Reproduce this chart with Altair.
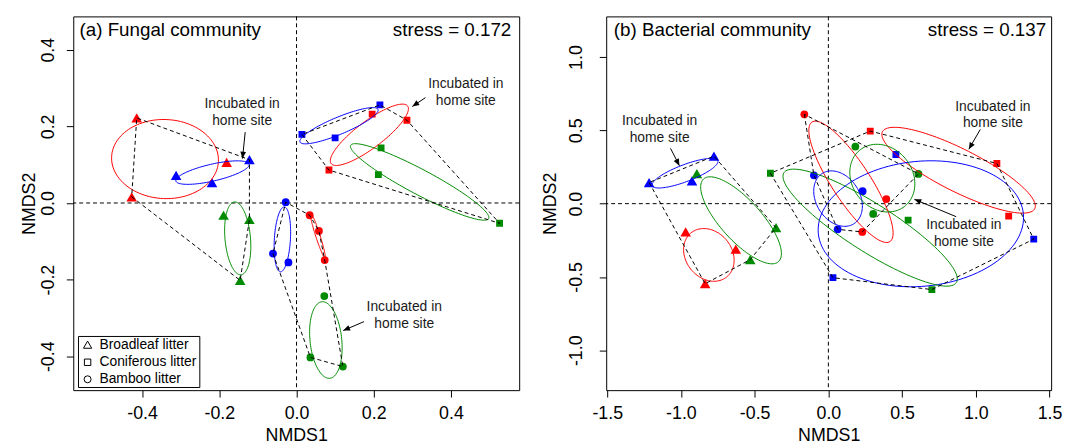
import numpy as np
import pandas as pd
import altair as alt

FONT = "Liberation Sans"

# ---------------- data ----------------
SITES = ["Coniferous site", "Broadleaf site", "Bamboo site"]
SITE_COLORS = ["#FF0000", "#0000FF", "#008B00"]
LITTERS = ["Broadleaf litter", "Coniferous litter", "Bamboo litter"]
LITTER_SHAPES = ["triangle-up", "square", "circle"]
LITTER_SIZES = [115, 48, 62]

sample_litter = ["Broadleaf litter"] * 9 + ["Coniferous litter"] * 9 + ["Bamboo litter"] * 9
sample_site = (["Coniferous site"] * 3 + ["Broadleaf site"] * 3 + ["Bamboo site"] * 3) * 3

# (a) Fungal community
fungal_x = [-0.414, -0.427, -0.181, -0.312, -0.219, -0.122, -0.189, -0.122, -0.146,
            0.196, 0.286, 0.084, 0.014, 0.100, 0.216, 0.219, 0.212, 0.526,
            0.034, 0.058, 0.073, -0.028, -0.061, -0.021, 0.072, 0.036, 0.120]
fungal_y = [0.222, 0.016, 0.106, 0.072, 0.053, 0.113, -0.032, -0.043, -0.202,
            0.232, 0.216, 0.086, 0.179, 0.170, 0.256, 0.144, 0.074, -0.053,
            -0.032, -0.073, -0.149, 0.002, -0.132, -0.155, -0.243, -0.403, -0.427]

# (b) Bacterial community
bact_x = [-0.968, -0.628, -0.836, -1.216, -0.925, -0.776, -0.892, -0.355, -0.530,
          0.284, 1.143, 1.223, 0.458, 1.393, 0.031, -0.393, 0.541, 0.702,
          -0.163, 0.393, 0.230, -0.098, 0.232, 0.063, 0.183, 0.304, 0.611]
bact_y = [-0.193, -0.310, -0.546, 0.144, 0.155, 0.324, 0.205, -0.164, -0.382,
          0.495, 0.274, -0.085, 0.335, -0.242, -0.505, 0.207, -0.112, -0.586,
          0.609, 0.031, -0.193, 0.193, 0.085, -0.175, 0.389, -0.070, 0.203]

note_lines = ["Incubated in", "home site"]
fungal_note_x = [-0.141, 0.4385, 0.279]
fungal_note_y1 = [0.258, 0.311, -0.2725]
fungal_note_y2 = [0.213, 0.267, -0.316]
fungal_arrow_x0 = [-0.133, 0.334, 0.1747]
fungal_arrow_y0 = [0.185, 0.275, -0.3097]
fungal_arrow_x1 = [-0.140, 0.300, 0.1209]
fungal_arrow_y1 = [0.116, 0.252, -0.3329]

bact_note_x = [-1.1445, 1.1157, 0.919]
bact_note_y1 = [0.562, 0.662, -0.146]
bact_note_y2 = [0.447, 0.547, -0.261]
bact_arrow_x0 = [-1.0708, 1.0305, 0.8675]
bact_arrow_y0 = [0.3773, 0.5061, -0.0891]
bact_arrow_x1 = [-1.0104, 0.9527, 0.5838]
bact_arrow_y1 = [0.2586, 0.3712, 0.0293]

fungal_xdom = [-0.5784, 0.5768]
fungal_ydom = [-0.4885, 0.487]
bact_xdom = [-1.507, 1.511]
bact_ydom = [-1.272, 1.277]
fungal_ticks = [-0.4, -0.2, 0.0, 0.2, 0.4]
bact_xticks = [-1.5, -1.0, -0.5, 0.0, 0.5, 1.0, 1.5]
bact_yticks = [-1.0, -0.5, 0.0, 0.5, 1.0]

H = 378
LABEL_EXPR = "(datum.value < 0 ? '-' : '') + format(abs(datum.value), '.1f')"

color_of = dict(zip(SITES, SITE_COLORS))
shape_of = dict(zip(LITTERS, LITTER_SHAPES))
size_of = dict(zip(LITTERS, LITTER_SIZES))


def convex_hull(points):
    pts = sorted(set(points))
    if len(pts) <= 2:
        return pts

    def cross(o, a, b):
        return (a[0] - o[0]) * (b[1] - o[1]) - (a[1] - o[1]) * (b[0] - o[0])

    lower, upper = [], []
    for p in pts:
        while len(lower) >= 2 and cross(lower[-2], lower[-1], p) <= 0:
            lower.pop()
        lower.append(p)
    for p in reversed(pts):
        while len(upper) >= 2 and cross(upper[-2], upper[-1], p) <= 0:
            upper.pop()
        upper.append(p)
    return lower[:-1] + upper[:-1]


def panel(xs, ys, xdom, ydom, width, xticks, yticks, lab_pad, title_x,
          note_x, note_y1, note_y2, ax0, ay0, ax1, ay1, title_left, title_right,
          title_left_x, title_right_x, legend):
    df = pd.DataFrame({"x": xs, "y": ys, "litter": sample_litter, "site": sample_site})
    df["color"] = df["site"].map(color_of)
    df["shape"] = df["litter"].map(shape_of)
    df["size"] = df["litter"].map(size_of)

    # sd ellipses (mean + sqrt of covariance)
    t = np.linspace(0, 2 * np.pi, 121)
    circ = np.vstack([np.cos(t), np.sin(t)])
    rows = []
    for (lit, site), g in df.groupby(["litter", "site"], sort=False):
        pts = g[["x", "y"]].to_numpy()
        m = pts.mean(axis=0)
        w, v = np.linalg.eigh(np.cov(pts.T))
        w = np.clip(w, 0, None)
        e = (v @ np.diag(np.sqrt(w)) @ circ).T + m
        for k, (ex, ey) in enumerate(e):
            rows.append({"x": ex, "y": ey, "k": k, "gid": lit + "|" + site,
                         "color": color_of[site]})
    ell = pd.DataFrame(rows)

    # convex hulls per litter type
    hrows = []
    for lit, g in df.groupby("litter", sort=False):
        hull = convex_hull(list(zip(g["x"], g["y"])))
        hull = hull + [hull[0]]
        for k, (hx, hy) in enumerate(hull):
            hrows.append({"x": hx, "y": hy, "k": k, "gid": lit})
    hul = pd.DataFrame(hrows)

    sx = width / (xdom[1] - xdom[0])
    sy = H / (ydom[1] - ydom[0])
    arr = pd.DataFrame({"x0": ax0, "y0": ay0, "x1": ax1, "y1": ay1})
    arr["ang"] = [float(np.degrees(np.arctan2((b - a) * sx, (d - c) * sy)) % 360)
                  for a, b, c, d in zip(ax0, ax1, ay0, ay1)]
    notes = pd.DataFrame({
        "x": list(note_x) + list(note_x),
        "y": list(note_y1) + list(note_y2),
        "t": [note_lines[0]] * len(note_x) + [note_lines[1]] * len(note_x),
    })

    xaxis = alt.Axis(values=xticks, title="NMDS1", grid=False, domain=False,
                     tickSize=7, tickColor="black", labelFontSize=18, labelFont=FONT,
                     labelColor="black", labelPadding=8, labelFlush=False,
                     labelExpr=LABEL_EXPR, titleFontSize=18, titleFont=FONT,
                     titleFontWeight="normal", titleColor="black",
                     titleBaseline="alphabetic", titleY=51)
    yaxis = alt.Axis(values=yticks, title="NMDS2", grid=False, domain=False,
                     tickSize=7, tickColor="black", labelFontSize=18, labelFont=FONT,
                     labelColor="black", labelPadding=lab_pad, labelFlush=False,
                     labelAngle=270, labelAlign="center", labelBaseline="alphabetic",
                     labelExpr=LABEL_EXPR, titleFontSize=18, titleFont=FONT,
                     titleFontWeight="normal", titleColor="black", titleAngle=270,
                     titleAlign="center", titleBaseline="alphabetic",
                     titleX=title_x, titleY=H / 2)
    xs_ = alt.Scale(domain=xdom, nice=False, zero=False)
    ys_ = alt.Scale(domain=ydom, nice=False, zero=False)
    X = alt.X("x:Q", scale=xs_, axis=xaxis)
    Y = alt.Y("y:Q", scale=ys_, axis=yaxis)

    zero = pd.DataFrame({"x": [0.0], "y": [0.0]})
    vline = alt.Chart(zero).mark_rule(color="black", strokeWidth=1, strokeDash=[4, 3]).encode(x=X)
    hline = alt.Chart(zero).mark_rule(color="black", strokeWidth=1, strokeDash=[4, 3]).encode(y=Y)

    points = alt.Chart(df).mark_point(filled=True, opacity=1, clip=True).encode(
        x=X, y=Y,
        color=alt.Color("color:N", scale=None),
        shape=alt.Shape("shape:N", scale=None),
        size=alt.Size("size:Q", scale=None),
    )
    ellipses = alt.Chart(ell).mark_line(strokeWidth=1, clip=True).encode(
        x=X, y=Y, detail="gid:N", order="k:Q", color=alt.Color("color:N", scale=None))
    hulls = alt.Chart(hul).mark_line(strokeWidth=1, color="black", strokeDash=[4, 3],
                                     clip=True).encode(x=X, y=Y, detail="gid:N", order="k:Q")
    shafts = alt.Chart(arr).mark_rule(color="black", strokeWidth=1).encode(
        x=alt.X("x0:Q", scale=xs_, axis=xaxis), y=alt.Y("y0:Q", scale=ys_, axis=yaxis),
        x2="x1:Q", y2="y1:Q")
    heads = alt.Chart(arr).mark_point(shape="M0,0L-0.42,1L0.42,1Z", filled=True,
                                      color="black", opacity=1, size=190).encode(
        x=alt.X("x1:Q", scale=xs_, axis=xaxis), y=alt.Y("y1:Q", scale=ys_, axis=yaxis),
        angle=alt.Angle("ang:Q", scale=None))
    note_text = alt.Chart(notes).mark_text(font=FONT, fontSize=14, color="#1a1a1a",
                                           align="center", baseline="middle").encode(
        x=X, y=Y, text="t:N")

    tl = alt.Chart(pd.DataFrame({"t": [title_left]})).mark_text(
        font=FONT, fontSize=19, color="black", align="left", baseline="middle").encode(
        x=alt.value(title_left_x), y=alt.value(13.5), text="t:N")
    tr = alt.Chart(pd.DataFrame({"t": [title_right]})).mark_text(
        font=FONT, fontSize=19, color="black", align="right", baseline="middle").encode(
        x=alt.value(title_right_x), y=alt.value(13.5), text="t:N")

    layers = [vline, hline, points, ellipses, hulls, shafts, heads, note_text, tl, tr]

    if legend:
        box = alt.Chart(pd.DataFrame({"a": [0]})).mark_rect(
            fill="white", stroke="black", strokeWidth=1).encode(
            x=alt.value(5.3), x2=alt.value(128), y=alt.value(323.7), y2=alt.value(375.3))
        layers.append(box)
        leg_y = [332, 349.8, 367]
        leg_sizes = [70, 42, 50]
        for lit, shp, ly, lsz in zip(LITTERS, LITTER_SHAPES, leg_y, leg_sizes):
            d = pd.DataFrame({"t": [lit]})
            layers.append(alt.Chart(d).mark_point(shape=shp, filled=False, color="black",
                                                  strokeWidth=1, size=lsz, opacity=1).encode(
                x=alt.value(14.5), y=alt.value(ly)))
            layers.append(alt.Chart(d).mark_text(font=FONT, fontSize=14, color="black",
                                                 align="left", baseline="middle").encode(
                x=alt.value(26.5), y=alt.value(ly), text="t:N"))

    return alt.layer(*layers).properties(width=width, height=H)


pa = panel(fungal_x, fungal_y, fungal_xdom, fungal_ydom, 451, fungal_ticks, fungal_ticks,
           13, -38.7, fungal_note_x, fungal_note_y1, fungal_note_y2,
           fungal_arrow_x0, fungal_arrow_y0, fungal_arrow_x1, fungal_arrow_y1,
           "(a) Fungal community", "stress = 0.172", 6.3, 443, True)
pb = panel(bact_x, bact_y, bact_xdom, bact_ydom, 450, bact_xticks, bact_yticks,
           18, -51.7, bact_note_x, bact_note_y1, bact_note_y2,
           bact_arrow_x0, bact_arrow_y0, bact_arrow_x1, bact_arrow_y1,
           "(b) Bacterial community", "stress = 0.137", 7.7, 445, False)

chart = alt.hconcat(pa, pb, spacing=88, bounds="flush").properties(
    padding={"left": 12, "top": 5, "right": 0, "bottom": 0}
).configure_view(stroke="black", strokeWidth=1)

chart.save("out.html", embed_options={"renderer": "svg", "actions": False})
